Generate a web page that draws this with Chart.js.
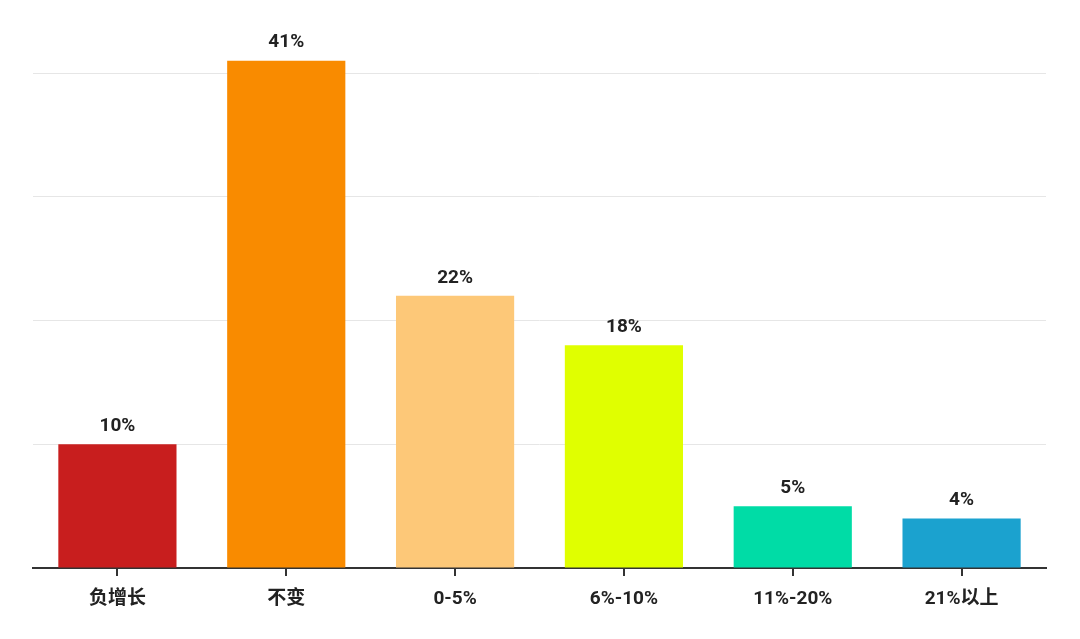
<!DOCTYPE html>
<html>
<head>
<meta charset="utf-8">
<script src="https://cdn.jsdelivr.net/npm/chart.js@4.4.1/dist/chart.umd.min.js"></script>
<style>
html,body{margin:0;padding:0;background:#fff;}
#wrap{width:1080px;height:639px;position:relative;}
</style>
</head>
<body>
<div id="wrap"><canvas id="c" width="1080" height="639"></canvas></div>
<script>
const categories = ['负增长', '不变', '0-5%', '6%-10%', '11%-20%', '21%以上'];
const values = [10, 41, 22, 18, 5, 4];
const valueLabels = ['10%', '41%', '22%', '18%', '5%', '4%'];
const barColors = ['#C81E1E', '#F98B00', '#FDC878', '#E0FF00', '#00DCA6', '#1BA2CF'];

const FONT = 'Roboto, "Noto Sans CJK SC", sans-serif';

const valueLabelPlugin = {
  id: 'valueLabels',
  afterDatasetsDraw(chart) {
    const ctx = chart.ctx;
    const meta = chart.getDatasetMeta(0);
    ctx.save();
    ctx.font = 'bold 19px ' + FONT;
    ctx.fillStyle = '#222';
    ctx.textAlign = 'center';
    ctx.textBaseline = 'middle';
    meta.data.forEach((bar, i) => {
      ctx.fillText(valueLabels[i], bar.x, bar.y - 18);
    });
    ctx.restore();
  }
};

new Chart(document.getElementById('c'), {
  type: 'bar',
  data: {
    labels: categories,
    datasets: [{
      data: values,
      backgroundColor: barColors,
      borderWidth: 0,
      categoryPercentage: 0.7,
      barPercentage: 1.0,
      clip: false
    }]
  },
  options: {
    responsive: false,
    animation: false,
    devicePixelRatio: 1,
    layout: { padding: { left: 33, right: 34, top: 73, bottom: 0 } },
    plugins: { legend: { display: false }, tooltip: { enabled: false } },
    scales: {
      x: {
        grid: { display: true, offset: false, drawOnChartArea: false, drawTicks: true, tickLength: 8, color: '#333', lineWidth: 2 },
        border: { display: true, color: '#333', width: 2 },
        ticks: { color: '#222', font: { family: FONT, size: 19, weight: 'bold' }, padding: 12 },
        afterFit(scale) { scale.height = 71; }
      },
      y: {
        min: 0, max: 40,
        ticks: { display: false, stepSize: 10 },
        grid: { color: '#e6e6e6', lineWidth: 1, drawTicks: false },
        border: { display: false },
        afterFit(scale) { scale.width = 0; }
      }
    }
  },
  plugins: [valueLabelPlugin]
});
</script>
</body>
</html>
